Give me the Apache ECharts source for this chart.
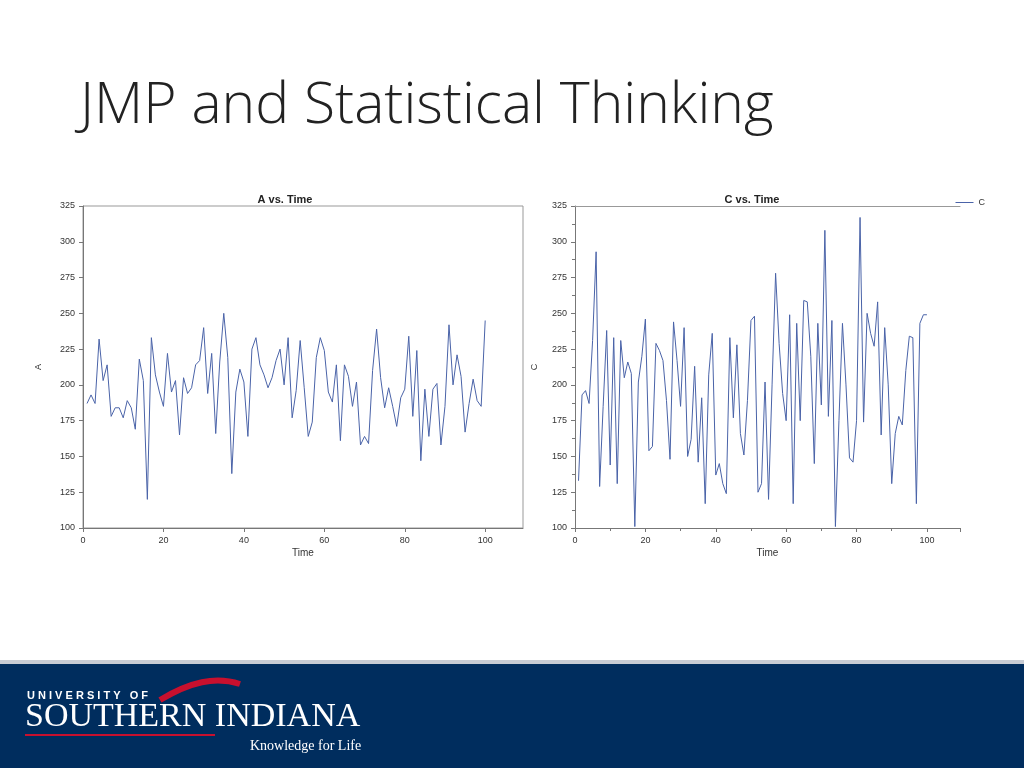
<!DOCTYPE html>
<html>
<head>
<meta charset="utf-8">
<script src="https://cdn.jsdelivr.net/npm/echarts@6/dist/echarts.min.js"></script>
<style>
  html, body { margin: 0; padding: 0; background: #fff; }
  #main { width: 1024px; height: 768px; }
</style>
</head>
<body>
<div id="main"></div>
<script>
(function() {
  var timeA = [];
  var timeC = [];
  var valuesA = [187, 193, 187, 232, 203, 214, 178, 184, 184, 177, 189, 184, 169, 218, 203, 120, 233, 207, 195, 185,
    222, 195, 203, 165, 205, 194, 198, 214, 217, 240, 194, 222, 166, 216, 250, 219, 138, 195, 211, 202,
    164, 225, 233, 214, 207, 198, 205, 217, 225, 200, 233, 177, 196, 231, 198, 164, 174, 219, 233, 224,
    195, 188, 214, 161, 214, 206, 185, 202, 158, 164, 159, 210, 239, 205, 184, 198, 185, 171, 191, 197,
    234, 178, 224, 147, 197, 164, 197, 201, 158, 185, 242, 200, 221, 206, 167, 187, 204, 189, 185, 245];
  var valuesC = [133, 193, 196, 187, 231, 293, 129, 185, 238, 144, 233, 131, 231, 205, 216, 208, 101, 202, 220, 246,
    154, 157, 229, 224, 217, 189, 148, 244, 217, 185, 240, 150, 162, 213, 146, 191, 117, 207, 236, 137,
    145, 131, 124, 233, 177, 228, 166, 151, 189, 245, 248, 125, 131, 202, 120, 200, 278, 229, 194, 175,
    249, 117, 243, 175, 259, 258, 220, 145, 243, 186, 308, 178, 245, 101, 175, 243, 200, 149, 146, 175,
    317, 174, 250, 236, 227, 258, 165, 240, 200, 131, 166, 178, 172, 210, 234, 233, 117, 243, 249, 249];
  for (var i = 0; i < valuesA.length; i++) { timeA.push([i + 1, valuesA[i]]); }
  for (var j = 0; j < valuesC.length; j++) { timeC.push([j + 1, valuesC[j]]); }

  var lineColor = '#4a63a8';
  var axisGray = '#777';
  var labelStyle = { color: '#333', fontSize: 9, fontFamily: 'Liberation Sans' };

  function yAxis(idx, minor) {
    return {
      type: 'value', gridIndex: idx, min: 100, max: 325, interval: 25,
      name: idx === 0 ? 'A' : 'C', nameLocation: 'middle', nameGap: idx === 0 ? 40 : 36,
      nameTextStyle: { color: '#333', fontSize: 9 },
      axisLine: { show: true, lineStyle: { color: axisGray } },
      axisTick: { show: true, length: 4, lineStyle: { color: axisGray } },
      minorTick: { show: minor, splitNumber: 2, length: 3, lineStyle: { color: axisGray } },
      splitLine: { show: false },
      axisLabel: labelStyle
    };
  }
  function xAxis(idx) {
    return {
      type: 'value', gridIndex: idx, min: 0, max: 109.4, interval: 20,
      name: 'Time', nameLocation: 'middle', nameGap: 20,
      nameTextStyle: { color: '#333', fontSize: 10 },
      axisLine: { show: true, onZero: false, lineStyle: { color: axisGray } },
      axisTick: { show: true, length: 4, lineStyle: { color: axisGray } },
      minorTick: { show: idx === 1, splitNumber: 2, length: 3, lineStyle: { color: axisGray } },
      splitLine: { show: false },
      axisLabel: Object.assign({ showMaxLabel: false }, labelStyle)
    };
  }

  var chart = echarts.init(document.getElementById('main'), null, { renderer: 'canvas' });
  chart.setOption({
    animation: false,
    title: [
      { text: 'A vs. Time', left: 280, top: 189, textAlign: 'center',
        textStyle: { fontSize: 11, fontWeight: 'bold', color: '#222', fontFamily: 'Liberation Sans' } },
      { text: 'C vs. Time', left: 747, top: 189, textAlign: 'center',
        textStyle: { fontSize: 11, fontWeight: 'bold', color: '#222', fontFamily: 'Liberation Sans' } }
    ],
    legend: {
      data: ['C'], right: 34, top: 193, itemWidth: 18, itemHeight: 1, icon: 'rect', itemGap: 4,
      textStyle: { fontSize: 9, color: '#333' }
    },
    grid: [
      { left: 83, top: 206, right: 501, bottom: 240, show: true, borderColor: '#999', borderWidth: 1 },
      { left: 575, top: 206, right: 64, bottom: 240 }
    ],
    xAxis: [
      xAxis(0), xAxis(1),
      { type: 'value', gridIndex: 1, position: 'top', min: 0, max: 109.4,
        axisLine: { show: true, lineStyle: { color: '#999' } },
        axisTick: { show: false }, axisLabel: { show: false }, splitLine: { show: false } }
    ],
    yAxis: [yAxis(0, false), yAxis(1, true)],
    series: [
      { name: 'A', type: 'line', xAxisIndex: 0, yAxisIndex: 0, data: timeA, showSymbol: false,
        lineStyle: { color: lineColor, width: 1 }, itemStyle: { color: lineColor } },
      { name: 'C', type: 'line', xAxisIndex: 1, yAxisIndex: 1, data: timeC, showSymbol: false,
        lineStyle: { color: lineColor, width: 1 }, itemStyle: { color: lineColor } }
    ],
    graphic: [
      { type: 'text', left: 80, top: 78,
        style: { text: 'JMP and Statistical Thinking', fill: '#222', font: '300 57px "Open Sans"' } },
      { type: 'rect', shape: { x: 0, y: 663, width: 1024, height: 105 }, style: { fill: '#002d5e' } },
      { type: 'rect', shape: { x: 0, y: 660, width: 1024, height: 4 }, style: { fill: '#c8ccd4' } },
      { type: 'text', left: 27, top: 690,
        style: { text: 'U N I V E R S I T Y   O F', fill: '#fff', font: 'bold 11px "Liberation Sans"' } },
      { type: 'text', left: 25, top: 700,
        style: { text: 'SOUTHERN INDIANA', fill: '#fff', font: '34px "Liberation Serif"' } },
      { type: 'rect', shape: { x: 25, y: 734, width: 190, height: 2 }, style: { fill: '#c8102e' } },
      { type: 'bezierCurve', shape: { x1: 160, y1: 700, x2: 240, y2: 684, cpx1: 190, cpy1: 682, cpx2: 215, cpy2: 676 },
        style: { stroke: '#c8102e', lineWidth: 6, fill: null } },
      { type: 'text', left: 250, top: 739,
        style: { text: 'Knowledge for Life', fill: '#fff', font: '14px "Liberation Serif"' } }
    ]
  });
})();
</script>
</body>
</html>
